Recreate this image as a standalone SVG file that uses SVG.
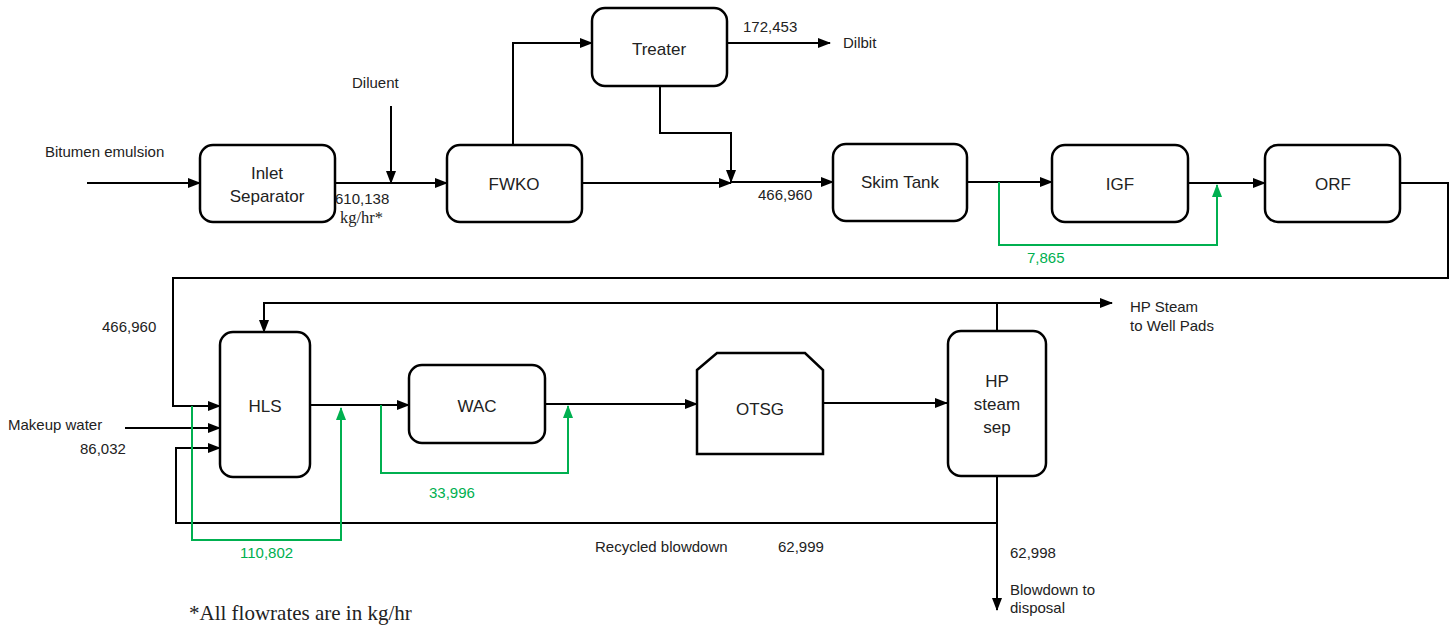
<svg xmlns="http://www.w3.org/2000/svg" width="1456" height="629" viewBox="0 0 1456 629">
<style>
.box{fill:#fff;stroke:#000;stroke-width:2.5}
.ln{fill:none;stroke:#000;stroke-width:2}
.gn{fill:none;stroke:#00B050;stroke-width:2}
.lbl{font-family:"Liberation Sans",Arial,sans-serif;font-size:17px;fill:#222;text-anchor:middle}
.t{font-family:"Liberation Sans",Arial,sans-serif;font-size:15px;fill:#222}
.tg{font-family:"Liberation Sans",Arial,sans-serif;font-size:15px;fill:#00B050}
.serif{font-family:"Liberation Serif","Times New Roman",serif;fill:#222}
</style>
<defs>
<marker id="ah" markerUnits="userSpaceOnUse" markerWidth="13" markerHeight="10" refX="12" refY="5" orient="auto"><path d="M0,0 L13,5 L0,10 z" fill="#000"/></marker>
<marker id="ag" markerUnits="userSpaceOnUse" markerWidth="13" markerHeight="10" refX="12" refY="5" orient="auto"><path d="M0,0 L13,5 L0,10 z" fill="#00B050"/></marker>
</defs>
<g id="connectors">
<path class="ln" d="M87,183 H200" marker-end="url(#ah)"/>
<path class="ln" d="M335,183 H447" marker-end="url(#ah)"/>
<path class="ln" d="M391,106 V183" marker-end="url(#ah)"/>
<path class="ln" d="M513,145 V43 H592" marker-end="url(#ah)"/>
<path class="ln" d="M727,43 H830" marker-end="url(#ah)"/>
<path class="ln" d="M660,86 V133 H731 V182" marker-end="url(#ah)"/>
<path class="ln" d="M582,183 H731" marker-end="url(#ah)"/>
<path class="ln" d="M731,182 H833" marker-end="url(#ah)"/>
<path class="ln" d="M967,182 H1052" marker-end="url(#ah)"/>
<path class="ln" d="M1188,183 H1265" marker-end="url(#ah)"/>
<path class="ln" d="M1400,183 H1448 V278 H173 V406 H220" marker-end="url(#ah)"/>
<path class="ln" d="M125,428 H220" marker-end="url(#ah)"/>
<path class="ln" d="M997,523 H176 V448 H220" marker-end="url(#ah)"/>
<path class="ln" d="M310,405 H409" marker-end="url(#ah)"/>
<path class="ln" d="M545,404 H697" marker-end="url(#ah)"/>
<path class="ln" d="M823,403 H947" marker-end="url(#ah)"/>
<path class="ln" d="M997,331 V303 H1112" marker-end="url(#ah)"/>
<path class="ln" d="M997,303 H264 V332" marker-end="url(#ah)"/>
<path class="ln" d="M997,476 V610" marker-end="url(#ah)"/>
<path class="gn" d="M192,406 V540 H341 V408" marker-end="url(#ag)"/>
<path class="gn" d="M381,405 V473 H568 V406" marker-end="url(#ag)"/>
<path class="gn" d="M999,182 V245 H1217 V185" marker-end="url(#ag)"/>
</g>
<g id="inlet-separator"><rect class="box" x="200" y="145" width="135" height="77" rx="13"/><text class="lbl" x="267" y="179">Inlet</text><text class="lbl" x="267" y="202">Separator</text></g>
<g id="fwko"><rect class="box" x="447" y="145" width="135" height="77" rx="13"/><text class="lbl" x="514" y="190">FWKO</text></g>
<g id="treater"><rect class="box" x="592" y="8" width="135" height="78" rx="13"/><text class="lbl" x="659" y="55">Treater</text></g>
<g id="skim-tank"><rect class="box" x="833" y="144" width="134" height="77" rx="13"/><text class="lbl" x="900" y="188">Skim Tank</text></g>
<g id="igf"><rect class="box" x="1052" y="145" width="136" height="77" rx="13"/><text class="lbl" x="1120" y="190">IGF</text></g>
<g id="orf"><rect class="box" x="1265" y="145" width="135" height="77" rx="13"/><text class="lbl" x="1333" y="190">ORF</text></g>
<g id="hls"><rect class="box" x="220" y="332" width="90" height="145" rx="13"/><text class="lbl" x="265" y="412">HLS</text></g>
<g id="wac"><rect class="box" x="409" y="365" width="136" height="78" rx="13"/><text class="lbl" x="477" y="412">WAC</text></g>
<g id="otsg"><polygon class="box" points="697,370 717,353 805,353 823,370 823,454 697,454"/><text class="lbl" x="760" y="415">OTSG</text></g>
<g id="hp-steam-sep"><rect class="box" x="948" y="331" width="98" height="145" rx="13"/><text class="lbl" x="997" y="387">HP</text><text class="lbl" x="997" y="410">steam</text><text class="lbl" x="997" y="433">sep</text></g>
<g id="labels">
<text class="t" x="45" y="157">Bitumen emulsion</text>
<text class="t" x="352" y="88">Diluent</text>
<text class="t" x="335" y="204">610,138</text>
<text class="serif" x="340" y="223" font-size="16.5">kg/hr*</text>
<text class="t" x="743" y="32">172,453</text>
<text class="t" x="843" y="48">Dilbit</text>
<text class="t" x="758" y="200">466,960</text>
<text class="tg" x="1027" y="263">7,865</text>
<text class="t" x="102" y="332">466,960</text>
<text class="t" x="8" y="430">Makeup water</text>
<text class="t" x="80" y="454">86,032</text>
<text class="tg" x="240" y="558">110,802</text>
<text class="tg" x="429" y="498">33,996</text>
<text class="t" x="595" y="552">Recycled blowdown</text>
<text class="t" x="778" y="552">62,999</text>
<text class="t" x="1130" y="312">HP Steam</text>
<text class="t" x="1130" y="331">to Well Pads</text>
<text class="t" x="1010" y="558">62,998</text>
<text class="t" x="1010" y="595">Blowdown to</text>
<text class="t" x="1010" y="613">disposal</text>
<text class="serif" x="189" y="620" font-size="21">*All flowrates are in kg/hr</text>
</g>
</svg>
